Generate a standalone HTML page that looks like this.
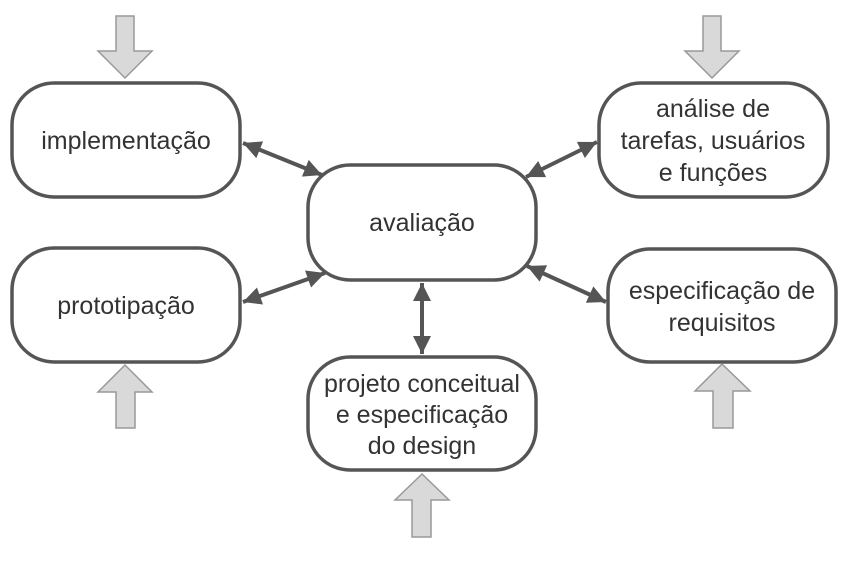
<!DOCTYPE html>
<html><head><meta charset="utf-8"><style>
html,body{margin:0;padding:0;background:#fff;}
svg{display:block;}
text{font-family:"Liberation Sans",sans-serif;font-size:25px;fill:#333;text-anchor:middle;}
</style></head><body>
<svg width="844" height="570" viewBox="0 0 844 570">
<defs>
<marker id="a" viewBox="0 0 10 10" refX="10" refY="5" markerWidth="5.5" markerHeight="4.5" orient="auto-start-reverse" markerUnits="strokeWidth">
<path d="M0,0 L10,5 L0,10 z" fill="#555"/></marker>
</defs>
<g fill="#fff" stroke="#555" stroke-width="3.5">
<rect x="12" y="83" width="228" height="114" rx="42"/>
<rect x="308" y="165" width="228" height="115" rx="42"/>
<rect x="599" y="83" width="229" height="114" rx="42"/>
<rect x="12" y="248" width="228" height="114" rx="42"/>
<rect x="608" y="249" width="228" height="113" rx="42"/>
<rect x="308" y="357" width="228" height="113" rx="42"/>
</g>
<g stroke="#555" stroke-width="4" marker-start="url(#a)" marker-end="url(#a)">
<line x1="243" y1="143" x2="322" y2="175"/>
<line x1="526" y1="177" x2="597" y2="142"/>
<line x1="243" y1="302" x2="325" y2="273"/>
<line x1="527" y1="266" x2="606" y2="302"/>
<line x1="422" y1="283" x2="422" y2="354"/>
</g>
<g fill="#d9d9d9" stroke="#999" stroke-width="1.5">
<path d="M116,16 H134 V51 H152 L125,78 L98,51 H116 Z"/>
<path d="M703,16 H721 V51 H739 L712,78 L685,51 H703 Z"/>
<path d="M116,428 H135 V392 H152 L125,365 L98,392 H116 Z"/>
<path d="M713,428 H733 V391 H750 L722,364 L695,391 H713 Z"/>
<path d="M412,537 H431 V500 H449 L422,474 L395,500 H412 Z"/>
</g>
<text x="126" y="149">implementação</text>
<text x="422" y="231">avaliação</text>
<text x="713" y="117">análise de</text>
<text x="713" y="149">tarefas, usuários</text>
<text x="713" y="181">e funções</text>
<text x="126" y="314">prototipação</text>
<text x="722" y="299">especificação de</text>
<text x="722" y="331">requisitos</text>
<text x="422" y="392">projeto conceitual</text>
<text x="422" y="423">e especificação</text>
<text x="422" y="454">do design</text>
</svg>
</body></html>
